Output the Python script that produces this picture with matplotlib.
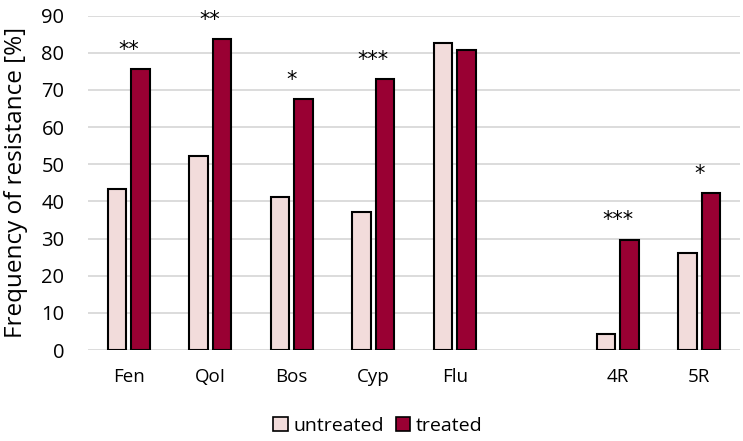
import matplotlib
matplotlib.use("Agg")
import matplotlib.pyplot as plt
import numpy as np

categories = ["Fen", "QoI", "Bos", "Cyp", "Flu", "", "4R", "5R"]
untreated = [43.4, 52.2, 41.2, 37.1, 82.6, np.nan, 4.4, 26.0]
treated = [75.6, 83.7, 67.5, 72.9, 80.9, np.nan, 29.7, 42.2]
stars = ["**", "**", "*", "***", "", "", "***", "*"]
yticks = [0, 10, 20, 30, 40, 50, 60, 70, 80, 90]

plt.rcParams['font.family'] = ['Open Sans', 'DejaVu Sans']

fig = plt.figure(figsize=(7.43, 4.41), dpi=100)
ax = fig.add_axes([88/743, 1 - 350/441, (740-88)/743, (350-15.7)/441])

x = np.arange(len(categories))
w = 0.23
off = 0.145
ax.bar(x - off, untreated, w, color="#F2DCDB", edgecolor="black", linewidth=1.5, label="untreated", zorder=3)
ax.bar(x + off, treated, w, color="#990033", edgecolor="black", linewidth=1.5, label="treated", zorder=3)

for xi, t, u, s in zip(x, treated, untreated, stars):
    if s:
        top = np.nanmax([t, u])
        ax.text(xi, top + 5.2, s, ha="center", va="center", fontsize=15, family="DejaVu Sans")

ax.set_ylim(0, 90)
ax.set_xlim(-0.5, len(categories) - 0.5)
ax.set_yticks(yticks)
ax.set_xticks(x)
ax.set_xticklabels(categories)
ax.yaxis.grid(True, color="#D9D9D9", linewidth=1.3, zorder=0)
ax.set_axisbelow(True)
for sp in ax.spines.values():
    sp.set_visible(False)
ax.tick_params(axis="both", length=0, labelsize=13.5, colors="black")
ax.tick_params(axis="y", labelsize=14.5, pad=17)
ax.tick_params(axis="x", pad=13)
ax.set_ylabel("Frequency of resistance [%]", fontsize=17.5)
ax.yaxis.set_label_coords(-(88 - 28) / 652, 0.5)

leg = fig.legend(loc="center", bbox_to_anchor=(378/743, 1 - 426/441), ncol=2, frameon=False,
                 fontsize=14, handlelength=0.75, handleheight=0.75, handletextpad=0.3, columnspacing=0.6)
for p in leg.get_patches():
    p.set_linewidth(1.2)

fig.savefig("out.png", dpi=100)
